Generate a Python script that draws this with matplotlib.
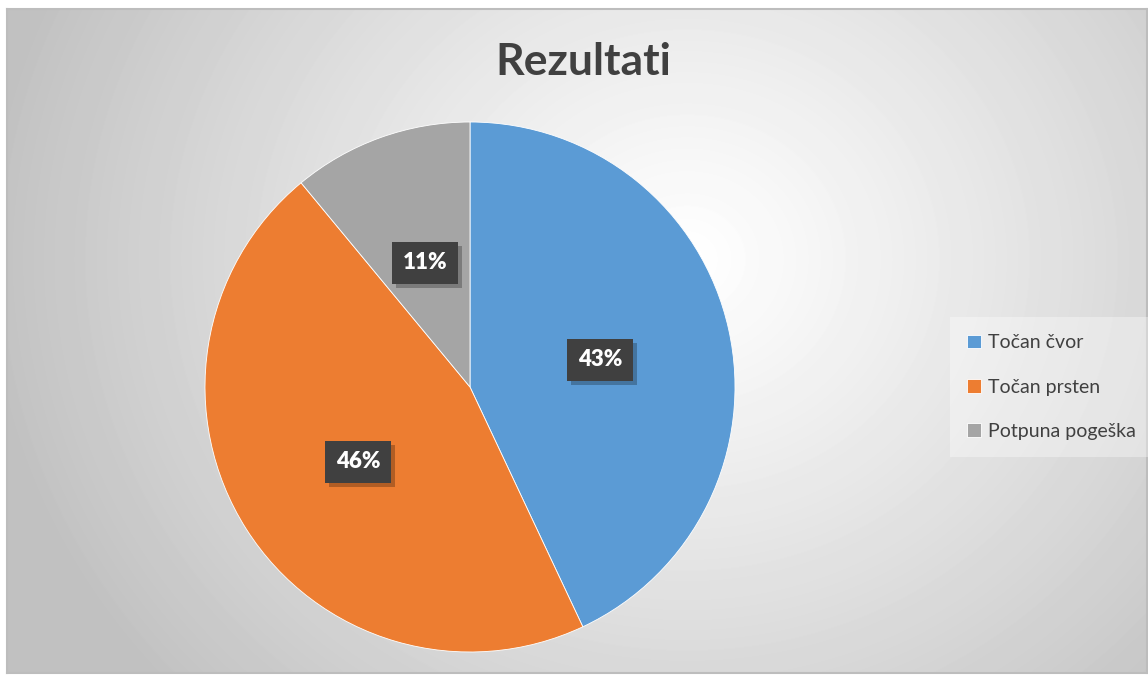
import numpy as np
import matplotlib.pyplot as plt
from matplotlib.patches import Rectangle

# data
labels = ['Točan čvor', 'Točan prsten', 'Potpuna pogeška']
values = [43, 46, 11]
colors = ['#5B9BD5', '#ED7D31', '#A5A5A5']
title = 'Rezultati'

plt.rcParams['hatch.color'] = '#4d4d4d'
plt.rcParams['hatch.linewidth'] = 1.0

W, H = 1148, 675
fig = plt.figure(figsize=(W / 100, H / 100), dpi=100)
fig.patch.set_facecolor('white')

# background with radial gradient
bg = fig.add_axes([7 / W, 2 / H, 1140 / W, 664 / H])
yy, xx = np.mgrid[0:664, 0:1140]
cx, cy = 680, 250
d = np.sqrt((xx - cx) ** 2 + ((yy - cy) * 1.1) ** 2) / 700.0
d = np.clip(d, 0, 1)
g = 1.0 - 0.24 * d ** 1.1
bg.imshow(g, cmap='gray', vmin=0, vmax=1, aspect='auto', interpolation='bilinear')
bg.set_xticks([])
bg.set_yticks([])
for s in bg.spines.values():
    s.set_color('#bdbdbd')
    s.set_linewidth(1.5)

# pie
r = 265
pcx, pcy = 470, 387
ax = fig.add_axes([(pcx - r) / W, (H - pcy - r) / H, 2 * r / W, 2 * r / H])
ax.set_facecolor('none')
wedges, _ = ax.pie(values, colors=colors, startangle=90, counterclock=False,
                   wedgeprops=dict(linewidth=0.6, edgecolor='white'))
ax.set_xlim(-1, 1)
ax.set_ylim(-1, 1)
ax.set_aspect('equal')

# data labels
label_pos = [(600, 360), (358, 462), (425, 263)]
for v, (lx, ly) in zip(values, label_pos):
    fx, fy = lx / W, 1 - ly / H
    bw, bh = 66 / W, 42 / H
    shadow = Rectangle((fx - bw / 2 + 4 / W, fy - bh / 2 - 4 / H), bw, bh,
                       transform=fig.transFigure, facecolor='black', alpha=0.25,
                       edgecolor='none', zorder=5)
    box = Rectangle((fx - bw / 2, fy - bh / 2), bw, bh, transform=fig.transFigure,
                    facecolor='#404040', edgecolor='none', zorder=6,
                    hatch='..', linewidth=0)
    fig.add_artist(shadow)
    fig.add_artist(box)
    fig.text(fx, fy, f'{v}%', ha='center', va='center', color='white',
             fontsize=16, fontweight='heavy', family='Lato', zorder=7)

fig.text(583 / W, 1 - 62 / H, title, ha='center', va='center', fontsize=32,
         fontweight='bold', color='#404040', family='Lato')

leg = fig.legend(wedges, labels, loc='center left', bbox_to_anchor=(940 / W, 1 - 387 / H),
                 frameon=True, handlelength=0.7, handleheight=0.7,
                 handletextpad=0.35, labelspacing=1.4, borderpad=0.9,
                 prop={'family': 'Lato', 'size': 14})
leg.get_frame().set_facecolor('white')
leg.get_frame().set_alpha(0.35)
leg.get_frame().set_edgecolor('none')
leg.get_frame().set_boxstyle('square', pad=0)
for t in leg.get_texts():
    t.set_color('#404040')

fig.savefig('out.png', dpi=100)
